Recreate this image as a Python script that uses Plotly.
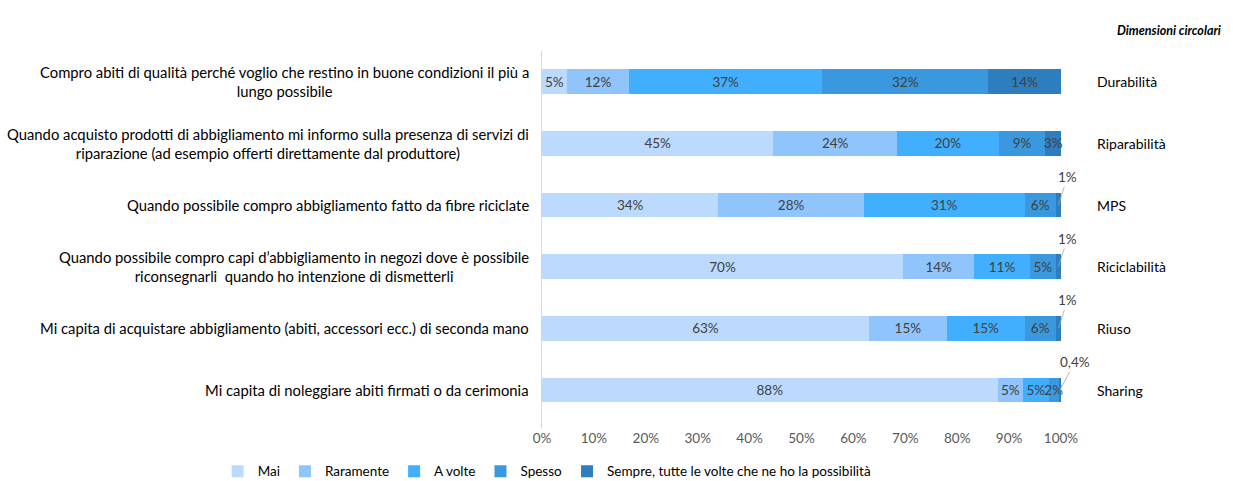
import plotly.graph_objects as go

# Survey statements (left), circular dimensions (right)
statements = [
    "Compro abiti di qualità perché voglio che restino in buone condizioni il più a<br>lungo possibile",
    "Quando acquisto prodotti di abbigliamento mi informo sulla presenza di servizi di<br>riparazione (ad esempio offerti direttamente dal produttore)",
    "Quando possibile compro abbigliamento fatto da fibre riciclate",
    "Quando possibile compro capi d’abbigliamento in negozi dove è possibile<br>riconsegnarli  quando ho intenzione di dismetterli",
    "Mi capita di acquistare abbigliamento (abiti, accessori ecc.) di seconda mano",
    "Mi capita di noleggiare abiti firmati o da cerimonia",
]
dimensions = ["Durabilità", "Riparabilità", "MPS", "Riciclabilità", "Riuso", "Sharing"]

series_names = ["Mai", "Raramente", "A volte", "Spesso",
                "Sempre, tutte le volte che ne ho la possibilità"]

# Shares (%) per answer, one value per statement
mai = [4.8, 44.6, 34.0, 69.6, 63.0, 87.8]
raramente = [12.0, 23.8, 28.0, 13.7, 15.0, 4.9]
a_volte = [37.2, 19.6, 31.0, 10.7, 15.0, 4.9]
spesso = [32.0, 9.0, 6.0, 5.0, 6.0, 2.0]
sempre = [14.0, 3.0, 1.0, 1.0, 1.0, 0.4]

x_ticks = [0, 10, 20, 30, 40, 50, 60, 70, 80, 90, 100]

colors = ["#BBDAFD", "#8FC4FC", "#41AEFE", "#3A99DE", "#2E7EBF"]
values = [mai, raramente, a_volte, spesso, sempre]

FONT = "Lato"
LABEL_COLOR = "#404040"


def fmt(v):
    if v < 1.5 and abs(v - round(v)) > 1e-9:
        return f"{v:.1f}".replace(".", ",") + "%"
    return f"{round(v):.0f}%"


fig = go.Figure()
for name, vals, col in zip(series_names, values, colors):
    texts = [fmt(v) if v >= 1.5 else "" for v in vals]
    fig.add_trace(go.Bar(
        name=name, orientation="h", y=dimensions, x=vals,
        marker=dict(color=col, line=dict(width=0)),
        text=texts, textposition="inside", insidetextanchor="middle",
        textangle=0,
        textfont=dict(family=FONT, size=13.5, color=LABEL_COLOR),
        cliponaxis=False,
    ))

annotations = []

# Outside labels with leader lines for the thinnest end segments
for i, dim in enumerate(dimensions):
    v = sempre[i]
    if v < 1.5:
        start = mai[i] + raramente[i] + a_volte[i] + spesso[i]
        label = fmt(v)
        annotations.append(dict(
            x=start + v / 2, y=dim, xref="x", yref="y",
            text=label, showarrow=True, arrowhead=0, arrowwidth=0.8,
            arrowcolor="#A6A6A6", ax=3 * len(label) + 3, ay=-28, standoff=0,
            font=dict(family=FONT, size=13.5, color=LABEL_COLOR),
        ))

# Statement labels on the left, centred lines block right-aligned
for stmt, dim in zip(statements, dimensions):
    annotations.append(dict(
        x=0, y=dim, xref="paper", yref="y", xanchor="right", xshift=-11,
        text=stmt, showarrow=False, align="center",
        font=dict(family=FONT, size=14.8, color="#000000"),
    ))

# Dimension names on the right
for dim in dimensions:
    annotations.append(dict(
        x=1, y=dim, xref="paper", yref="y", xanchor="left", xshift=34,
        text=dim, showarrow=False, align="left",
        font=dict(family=FONT, size=14, color="#000000"),
    ))

annotations.append(dict(
    x=1, y=1, xref="paper", yref="paper", xanchor="right", yanchor="bottom",
    xshift=162, yshift=11,
    text="<b><i>Dimensioni circolari</i></b>", showarrow=False,
    font=dict(family=FONT, size=12.5, color="#000000"),
))

fig.update_layout(
    barmode="stack", bargap=0.6,
    width=1233, height=481,
    margin=dict(l=542, r=172, t=51, b=53, autoexpand=False),
    paper_bgcolor="white", plot_bgcolor="white",
    separators=",.",
    showlegend=True,
    legend=dict(orientation="h", x=-0.625, xref="paper", y=-0.115, yref="paper",
                yanchor="middle", xanchor="left",
                font=dict(family=FONT, size=13.5, color="#000000"),
                itemwidth=30, traceorder="normal", itemclick=False),
    annotations=annotations,
    uniformtext=dict(minsize=13.5, mode="show"),
    font=dict(family=FONT),
)

fig.update_xaxes(
    range=[0, 100], tickvals=x_ticks, ticktext=[f"{t}%" for t in x_ticks],
    showgrid=False, zeroline=False, showline=False,
    tickfont=dict(family=FONT, size=13.5, color="#595959"), ticks="", ticklen=0,
)
fig.update_yaxes(
    autorange="reversed", showticklabels=False, showgrid=False, zeroline=False,
    showline=True, linecolor="#D9D9D9", linewidth=1, ticks="",
)

fig.write_html("out.html")
